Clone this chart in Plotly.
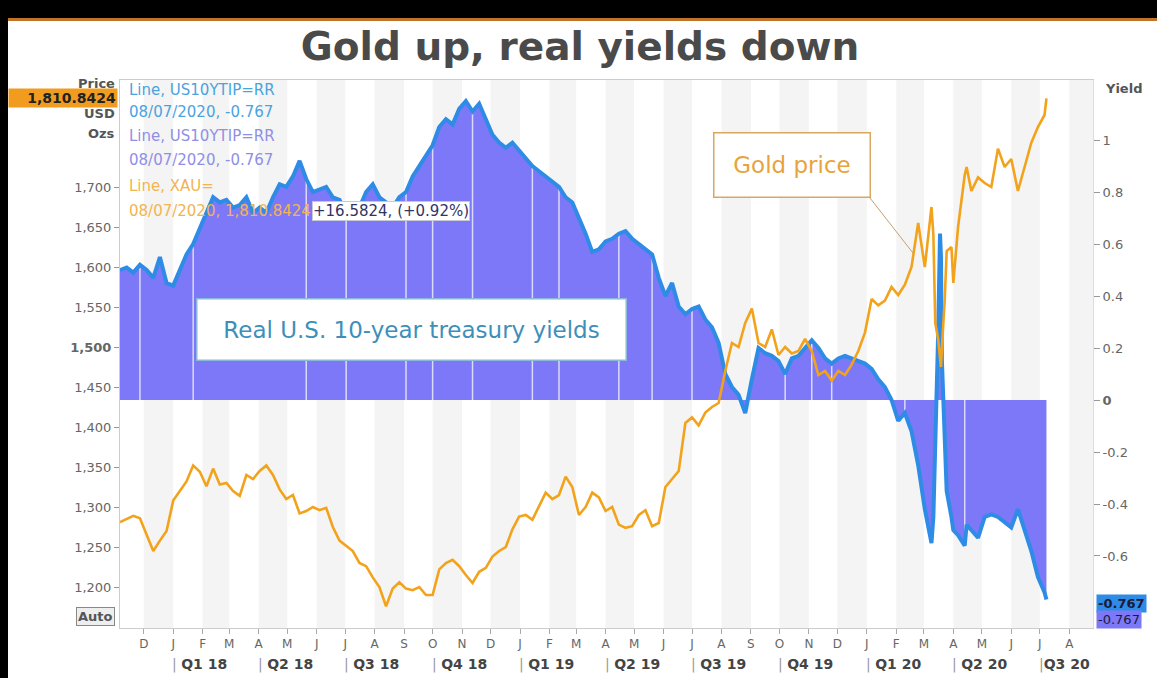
import plotly.graph_objects as go

# ---------------- data (weekly readings) ----------------
dates_2017 = ["2017-11-06", "2017-11-13", "2017-11-20", "2017-11-27", "2017-12-04", "2017-12-11",
              "2017-12-18", "2017-12-25"]
gold_2017 = [1281, 1285, 1289, 1286, 1266, 1245, 1258, 1270]
yield_2017 = [0.50, 0.51, 0.49, 0.52, 0.50, 0.47, 0.55, 0.45]

dates_2018 = ["2018-01-01", "2018-01-08", "2018-01-15", "2018-01-22", "2018-01-29", "2018-02-05",
              "2018-02-12", "2018-02-19", "2018-02-26", "2018-03-05", "2018-03-12", "2018-03-19",
              "2018-03-26", "2018-04-02", "2018-04-09", "2018-04-16", "2018-04-23", "2018-04-30",
              "2018-05-07", "2018-05-14", "2018-05-21", "2018-05-28", "2018-06-04", "2018-06-11",
              "2018-06-18", "2018-06-25", "2018-07-02", "2018-07-09", "2018-07-16", "2018-07-23",
              "2018-07-30", "2018-08-06", "2018-08-13", "2018-08-20", "2018-08-27", "2018-09-03",
              "2018-09-10", "2018-09-17", "2018-09-24", "2018-10-01", "2018-10-08", "2018-10-15",
              "2018-10-22", "2018-10-29", "2018-11-05", "2018-11-12", "2018-11-19", "2018-11-26",
              "2018-12-03", "2018-12-10", "2018-12-17", "2018-12-24", "2018-12-31"]
gold_2018 = [1308, 1320, 1332, 1352, 1344, 1326, 1348, 1328, 1330, 1320, 1314, 1340, 1335, 1345,
             1352, 1340, 1322, 1310, 1315, 1292, 1295, 1300, 1296, 1299, 1275, 1258, 1252, 1245,
             1230, 1226, 1212, 1200, 1176, 1198, 1206, 1198, 1196, 1200, 1190, 1190, 1222, 1230,
             1234, 1226, 1215, 1205, 1219, 1224, 1238, 1245, 1250, 1272, 1288]
yield_2018 = [0.44, 0.50, 0.56, 0.60, 0.66, 0.72, 0.78, 0.76, 0.77, 0.74, 0.75, 0.78, 0.72, 0.74,
              0.72, 0.78, 0.83, 0.82, 0.86, 0.92, 0.85, 0.80, 0.81, 0.82, 0.78, 0.77, 0.72, 0.70,
              0.74, 0.80, 0.83, 0.78, 0.76, 0.74, 0.78, 0.80, 0.86, 0.90, 0.94, 0.98, 1.05, 1.08,
              1.06, 1.12, 1.15, 1.11, 1.14, 1.08, 1.02, 0.99, 0.97, 0.99, 0.96]

dates_2019 = ["2019-01-07", "2019-01-14", "2019-01-21", "2019-01-28", "2019-02-04", "2019-02-11",
              "2019-02-18", "2019-02-25", "2019-03-04", "2019-03-11", "2019-03-18", "2019-03-25",
              "2019-04-01", "2019-04-08", "2019-04-15", "2019-04-22", "2019-04-29", "2019-05-06",
              "2019-05-13", "2019-05-20", "2019-05-27", "2019-06-03", "2019-06-10", "2019-06-17",
              "2019-06-24", "2019-07-01", "2019-07-08", "2019-07-15", "2019-07-22", "2019-07-29",
              "2019-08-05", "2019-08-12", "2019-08-19", "2019-08-26", "2019-09-02", "2019-09-09",
              "2019-09-16", "2019-09-23", "2019-09-30", "2019-10-07", "2019-10-14", "2019-10-21",
              "2019-10-28", "2019-11-04", "2019-11-11", "2019-11-18", "2019-11-25", "2019-12-02",
              "2019-12-09", "2019-12-16", "2019-12-23", "2019-12-30"]
gold_2019 = [1290, 1284, 1300, 1318, 1310, 1315, 1338, 1325, 1290, 1300, 1318, 1312, 1295, 1300,
             1278, 1274, 1276, 1290, 1296, 1276, 1280, 1325, 1335, 1345, 1405, 1412, 1402, 1418,
             1425, 1430, 1470, 1505, 1500, 1530, 1548, 1505, 1500, 1522, 1490, 1500, 1492, 1495,
             1510, 1495, 1465, 1470, 1458, 1470, 1465, 1478, 1495, 1518]
yield_2019 = [0.93, 0.90, 0.88, 0.86, 0.84, 0.82, 0.78, 0.76, 0.70, 0.64, 0.57, 0.58, 0.61, 0.62,
              0.64, 0.65, 0.62, 0.60, 0.58, 0.56, 0.47, 0.40, 0.45, 0.36, 0.33, 0.35, 0.36, 0.31,
              0.28, 0.22, 0.10, 0.05, 0.02, -0.05, 0.08, 0.20, 0.18, 0.17, 0.15, 0.10, 0.16, 0.17,
              0.20, 0.23, 0.20, 0.16, 0.14, 0.16, 0.17, 0.16, 0.15, 0.14]

dates_2020 = ["2020-01-06", "2020-01-13", "2020-01-20", "2020-01-27", "2020-02-03", "2020-02-10",
              "2020-02-17", "2020-02-24", "2020-03-02", "2020-03-09", "2020-03-11", "2020-03-13",
              "2020-03-16", "2020-03-18", "2020-03-19", "2020-03-20", "2020-03-23", "2020-03-25",
              "2020-03-30", "2020-04-01", "2020-04-06", "2020-04-13", "2020-04-15", "2020-04-20",
              "2020-04-27", "2020-05-04", "2020-05-11", "2020-05-18", "2020-05-25", "2020-06-01",
              "2020-06-08", "2020-06-15", "2020-06-22", "2020-06-29", "2020-07-06", "2020-07-08"]
gold_2020 = [1560, 1552, 1558, 1575, 1565, 1578, 1600, 1655, 1600, 1675, 1640, 1530, 1510, 1480,
             1475, 1500, 1560, 1620, 1625, 1580, 1650, 1715, 1725, 1695, 1712, 1705, 1700, 1748,
             1725, 1735, 1695, 1725, 1755, 1775, 1790, 1810.8424]
yield_2020 = [0.12, 0.08, 0.05, 0.00, -0.08, -0.05, -0.12, -0.25, -0.42, -0.55, -0.45, -0.20,
              0.25, 0.64, 0.55, 0.15, -0.20, -0.35, -0.45, -0.50, -0.52, -0.56, -0.48, -0.50,
              -0.53, -0.45, -0.44, -0.45, -0.47, -0.49, -0.42, -0.50, -0.58, -0.68, -0.74, -0.767]

dates = dates_2017 + dates_2018 + dates_2019 + dates_2020
gold = gold_2017 + gold_2018 + gold_2019 + gold_2020
yields = yield_2017 + yield_2018 + yield_2019 + yield_2020

# dates where light separator lines show through the yield area
separator_dates = ["2017-11-27", "2018-01-22", "2018-05-21", "2018-07-02", "2018-09-03",
                   "2018-10-01", "2018-11-12", "2019-01-14", "2019-02-11", "2019-04-15",
                   "2019-05-20", "2019-07-01", "2019-10-07", "2019-11-04", "2019-11-25",
                   "2020-02-10", "2020-04-13"]

month_starts = ["2017-12-01", "2018-01-01", "2018-02-01", "2018-03-01", "2018-04-01", "2018-05-01",
                "2018-06-01", "2018-07-01", "2018-08-01", "2018-09-01", "2018-10-01", "2018-11-01",
                "2018-12-01", "2019-01-01", "2019-02-01", "2019-03-01", "2019-04-01", "2019-05-01",
                "2019-06-01", "2019-07-01", "2019-08-01", "2019-09-01", "2019-10-01", "2019-11-01",
                "2019-12-01", "2020-01-01", "2020-02-01", "2020-03-01", "2020-04-01", "2020-05-01",
                "2020-06-01", "2020-07-01", "2020-08-01"]
month_letters = ["D", "J", "F", "M", "A", "M", "J", "J", "A", "S", "O", "N",
                 "D", "J", "F", "M", "A", "M", "J", "J", "A", "S", "O", "N",
                 "D", "J", "F", "M", "A", "M", "J", "J", "A"]
quarter_starts = ["2018-01-01", "2018-04-01", "2018-07-01", "2018-10-01", "2019-01-01", "2019-04-01",
                  "2019-07-01", "2019-10-01", "2020-01-01", "2020-04-01", "2020-07-01"]
quarter_labels = ["Q1 18", "Q2 18", "Q3 18", "Q4 18", "Q1 19", "Q2 19",
                  "Q3 19", "Q4 19", "Q1 20", "Q2 20", "Q3 20"]

price_ticks = [1200, 1250, 1300, 1350, 1400, 1450, 1500, 1550, 1600, 1650, 1700]
yield_ticks = [-0.6, -0.4, -0.2, 0, 0.2, 0.4, 0.6, 0.8, 1]

x_range = ["2017-11-06", "2020-08-26"]
price_range = [1148.75, 1833.75]
yield_range = [-0.877, 1.231]

FONT = "DejaVu Sans"
GRAY = "#666666"

fig = go.Figure()

# yield area (fill only)
fig.add_trace(go.Scatter(
    x=dates, y=yields, yaxis="y", mode="lines",
    line=dict(color="#7c78f8", width=0),
    fill="tozeroy", fillcolor="#7c78f8", hoverinfo="skip"))

# light separators inside the area
sx, sy = [], []
for d in separator_dates:
    i = dates.index(d)
    sx += [d, d, None]
    sy += [0, yields[i], None]
fig.add_trace(go.Scatter(x=sx, y=sy, yaxis="y", mode="lines",
                         line=dict(color="rgba(235,235,255,0.85)", width=1.5),
                         hoverinfo="skip"))

# yield line
fig.add_trace(go.Scatter(
    x=dates, y=yields, yaxis="y", mode="lines",
    line=dict(color="#2f8ce6", width=4), hoverinfo="skip"))

# gold price
fig.add_trace(go.Scatter(
    x=dates, y=gold, yaxis="y2", mode="lines",
    line=dict(color="#f2a31b", width=2.6), hoverinfo="skip"))

# alternating month shading
shapes = []
all_months = ["2017-11-01"] + month_starts
for i, m in enumerate(all_months):
    month = int(m[5:7])
    if month % 2 == 0:
        end = all_months[i + 1] if i + 1 < len(all_months) else x_range[1]
        shapes.append(dict(type="rect", xref="x", yref="paper", x0=m, x1=end, y0=0, y1=1,
                           fillcolor="#f4f4f4", line=dict(width=0), layer="below"))

# frame decoration (black border, orange rule)
shapes += [
    dict(type="rect", xref="paper", yref="paper", x0=-0.13, x1=1.07, y0=1.1131, y1=1.16,
         fillcolor="black", line=dict(width=0)),
    dict(type="rect", xref="paper", yref="paper", x0=-0.13, x1=1.07, y0=1.1077, y1=1.1131,
         fillcolor="#c0742a", line=dict(width=0)),
    dict(type="rect", xref="paper", yref="paper", x0=-0.13, x1=-0.1151, y0=-0.1, y1=1.16,
         fillcolor="black", line=dict(width=0)),
    # callout connector for the gold label
    dict(type="line", xref="paper", yref="paper", x0=0.7708, y0=0.7847, x1=0.8150, y1=0.6843,
         line=dict(color="#c8a070", width=1)),
]

ann = []
# legend-like overlay text (top-left)
legend_lines = [
    ("Line, US10YTIP=RR", "#4aa3df", 0.9818),
    ("08/07/2020, -0.767", "#4aa3df", 0.9416),
    ("Line, US10YTIP=RR", "#8f8fe6", 0.8978),
    ("08/07/2020, -0.767", "#8f8fe6", 0.8540),
    ("Line, XAU=", "#f2b450", 0.8066),
    ("08/07/2020, 1,810.8424, ", "#f2b450", 0.7609),
]
for txt, col, yy in legend_lines:
    ann.append(dict(text=txt, xref="paper", yref="paper", x=0.0072, y=yy, xanchor="left",
                    yanchor="middle", showarrow=False, font=dict(size=15, color=col, family=FONT)))
ann.append(dict(text="+16.5824, (+0.92%)", xref="paper", yref="paper", x=0.1973, y=0.7609,
                xanchor="left", yanchor="middle", showarrow=False, bgcolor="white",
                bordercolor="#c8c8d8", borderwidth=1, borderpad=0,
                font=dict(size=15, color="#333366", family=FONT)))

# left axis title pieces and last value box
ann += [
    dict(text="<b>Price</b>", xref="paper", yref="paper", x=-0.003, y=0.9945, xanchor="right",
         yanchor="middle", showarrow=False, font=dict(size=13, color="#555", family=FONT)),
    dict(text="<b>USD</b>", xref="paper", yref="paper", x=-0.003, y=0.9380, xanchor="right",
         yanchor="middle", showarrow=False, font=dict(size=13, color="#555", family=FONT)),
    dict(text="<b>Ozs</b>", xref="paper", yref="paper", x=-0.003, y=0.9015, xanchor="right",
         yanchor="middle", showarrow=False, font=dict(size=13, color="#555", family=FONT)),
    dict(text="<b>1,810.8424</b>", xref="paper", yref="y2", x=-0.002, y=gold[-1], xanchor="right",
         yanchor="middle", showarrow=False, bgcolor="#f29c1f", borderpad=1, width=106,
         align="right", font=dict(size=14, color="#222", family=FONT)),
    dict(text="<b>Auto</b>", xref="paper", yref="paper", x=-0.0247, y=0.0201, xanchor="center",
         yanchor="middle", showarrow=False, bgcolor="#eeeeee", bordercolor="#888", borderwidth=1,
         borderpad=1, font=dict(size=13, color="#555", family=FONT)),
    dict(text="<b>Yield</b>", xref="paper", yref="paper", x=1.0103, y=0.9854, xanchor="left",
         yanchor="middle", showarrow=False, font=dict(size=13, color="#555", family=FONT)),
    dict(text="<b>-0.767</b>", xref="paper", yref="paper", x=1.0031, y=0.0438, xanchor="left",
         yanchor="middle", showarrow=False, bgcolor="#2f8ce6", borderpad=1,
         font=dict(size=13, color="#1a1a40", family=FONT)),
    dict(text="-0.767", xref="paper", yref="paper", x=1.0031, y=0.0164, xanchor="left",
         yanchor="middle", showarrow=False, bgcolor="#7c78f8", borderpad=1,
         font=dict(size=13, color="#1a1a40", family=FONT)),
]

# callout boxes
ann += [
    dict(text="Real U.S. 10-year treasury yields", xref="paper", yref="paper", x=0.3001, y=0.5456,
         xanchor="center", yanchor="middle", showarrow=False, bgcolor="white",
         bordercolor="#8ab8d8", borderwidth=1.5, borderpad=1, width=426, height=58,
         font=dict(size=23, color="#3d8fba", family=FONT)),
    dict(text="Gold price", xref="paper", yref="paper", x=0.6906, y=0.8449,
         xanchor="center", yanchor="middle", showarrow=False, bgcolor="rgba(255,255,255,0.92)",
         bordercolor="#d9a860", borderwidth=1.5, borderpad=1, width=153, height=61,
         font=dict(size=23, color="#e8a33c", family=FONT)),
]

# quarter labels under the month letters
for q, lab in zip(quarter_starts, quarter_labels):
    sep = "|" if lab == "Q3 20" else "| "
    ann.append(dict(text=f"<span style='color:#999'>{sep}</span><b>{lab}</b>", xref="x",
                    yref="paper", x=q, y=-0.0675, xanchor="left", yanchor="middle",
                    xshift=-3, showarrow=False, font=dict(size=14, color="#444", family=FONT)))

price_text = [f"<b>{v:,}</b>" if v == 1500 else f"{v:,}" for v in price_ticks]
yield_text = ["<b>0</b>" if v == 0 else f"{v:g}" for v in yield_ticks]

fig.update_layout(
    width=1157, height=678,
    margin=dict(l=120, r=64, t=80, b=50),
    paper_bgcolor="white", plot_bgcolor="white",
    showlegend=False,
    font=dict(family=FONT, size=13, color=GRAY),
    title=dict(text="<b>Gold up, real yields down</b>", x=0.5013, xanchor="center",
               y=1 - 46 / 678, yanchor="middle",
               font=dict(size=39, color="#4a4a4a", family=FONT)),
    xaxis=dict(type="date", range=x_range, tickvals=month_starts, ticktext=month_letters,
               ticks="outside", ticklen=5, tickcolor="#aaa", showgrid=False, zeroline=False,
               showline=True, linecolor="#cccccc", mirror=True, automargin=False,
               tickfont=dict(size=12, color=GRAY, family=FONT)),
    yaxis=dict(range=yield_range, side="right", tickvals=yield_ticks, ticktext=yield_text,
               ticks="outside", ticklen=6, tickcolor="#999", showgrid=False, zeroline=False,
               showline=True, linecolor="#dddddd", automargin=False,
               tickfont=dict(size=13, color=GRAY, family=FONT)),
    yaxis2=dict(range=price_range, side="left", overlaying="y", tickvals=price_ticks,
                ticktext=price_text, ticks="outside", ticklen=5, tickcolor="#999",
                showgrid=False, zeroline=False, showline=True, linecolor="#cccccc",
                automargin=False, tickfont=dict(size=13, color=GRAY, family=FONT)),
    shapes=shapes,
    annotations=ann,
)

fig.write_html("out.html", post_script="document.body.style.margin='0';")
